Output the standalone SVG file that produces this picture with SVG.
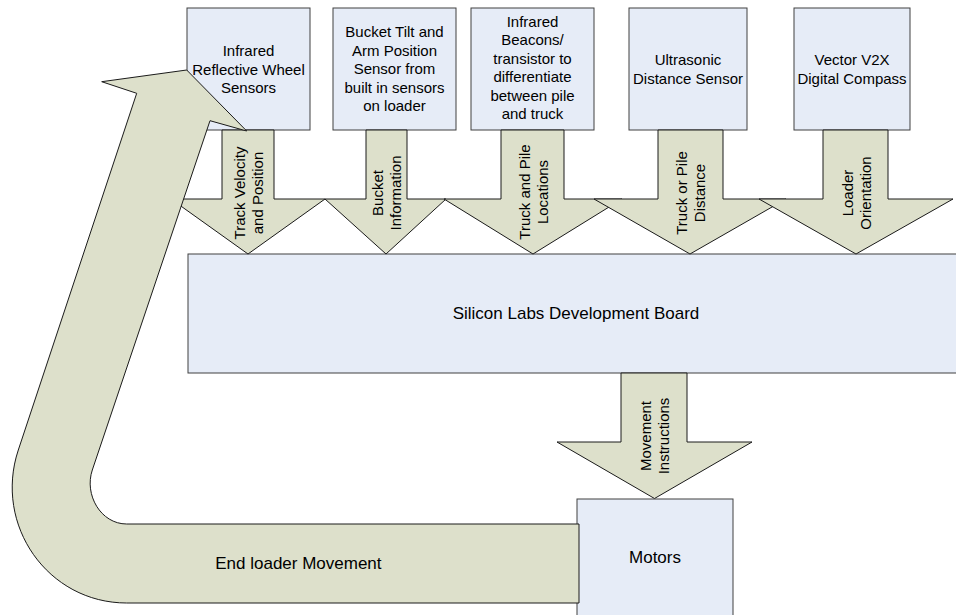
<svg xmlns="http://www.w3.org/2000/svg" width="956" height="615" viewBox="0 0 956 615">
<style>
.box{fill:#E6ECF7;stroke:#404040;stroke-width:1}
.arr{fill:#DDE0CB;stroke:#1a1a1a;stroke-width:1;stroke-linejoin:miter}
text{font-family:"Liberation Sans",Arial,sans-serif;fill:#000}
.s{font-size:15px;text-anchor:middle}
.l{font-size:17px;text-anchor:middle}
</style>
<rect width="956" height="615" fill="#fff"/>
<g id="nodes">
<g id="sensor1">
<rect class="box" x="187" y="8" width="123" height="122"/>
<text class="s"><tspan x="248.5" y="56">Infrared</tspan><tspan x="248.5" y="74.5">Reflective Wheel</tspan><tspan x="248.5" y="93">Sensors</tspan></text>
</g>
<g id="sensor2">
<rect class="box" x="333" y="8" width="123" height="122"/>
<text class="s"><tspan x="394.5" y="37">Bucket Tilt and</tspan><tspan x="394.5" y="55.5">Arm Position</tspan><tspan x="394.5" y="74">Sensor from</tspan><tspan x="394.5" y="92.5">built in sensors</tspan><tspan x="394.5" y="111">on loader</tspan></text>
</g>
<g id="sensor3">
<rect class="box" x="471" y="8" width="123" height="122"/>
<text class="s"><tspan x="532.5" y="26.5">Infrared</tspan><tspan x="532.5" y="45">Beacons/</tspan><tspan x="532.5" y="63.5">transistor to</tspan><tspan x="532.5" y="82">differentiate</tspan><tspan x="532.5" y="100.5">between pile</tspan><tspan x="532.5" y="119">and truck</tspan></text>
</g>
<g id="sensor4">
<rect class="box" x="629" y="8" width="118" height="122"/>
<text class="s"><tspan x="688" y="65">Ultrasonic</tspan><tspan x="688" y="83.5">Distance Sensor</tspan></text>
</g>
<g id="sensor5">
<rect class="box" x="794" y="8" width="116" height="122"/>
<text class="s"><tspan x="852" y="65">Vector V2X</tspan><tspan x="852" y="83.5">Digital Compass</tspan></text>
</g>
<g id="board">
<rect class="box" x="188" y="254" width="776" height="119"/>
<text class="l" x="576" y="319">Silicon Labs Development Board</text>
</g>
<g id="motors">
<rect class="box" x="577" y="499" width="156" height="118"/>
<text class="l" x="655" y="563">Motors</text>
</g>
</g>
<g id="connectors">
<g id="a1">
<polygon class="arr" points="222,130 274,130 274,199 325,199 248,254 171,199 222,199"/>
<text class="s" transform="translate(248,193) rotate(-90)"><tspan x="0" y="-3.5">Track Velocity</tspan><tspan x="0" y="14.5">and Position</tspan></text>
</g>
<g id="a2">
<polygon class="arr" points="366,130 407,130 407,199 446,199 386,254 325,199 366,199"/>
<text class="s" transform="translate(386,193) rotate(-90)"><tspan x="0" y="-3.5">Bucket</tspan><tspan x="0" y="14.5">Information</tspan></text>
</g>
<g id="a3">
<polygon class="arr" points="501,130 564,130 564,199 622,199 533,254 444,199 501,199"/>
<text class="s" transform="translate(533,192) rotate(-90)"><tspan x="0" y="-3.5">Truck and Pile</tspan><tspan x="0" y="14.5">Locations</tspan></text>
</g>
<g id="a4">
<polygon class="arr" points="658,130 723,130 723,199 786,199 690,254 594,199 658,199"/>
<text class="s" transform="translate(690,193) rotate(-90)"><tspan x="0" y="-3.5">Truck or Pile</tspan><tspan x="0" y="14.5">Distance</tspan></text>
</g>
<g id="a5">
<polygon class="arr" points="823,130 888,130 888,199 953,199 856,254 759,199 823,199"/>
<text class="s" transform="translate(856,193) rotate(-90)"><tspan x="0" y="-3.5">Loader</tspan><tspan x="0" y="14.5">Orientation</tspan></text>
</g>
<g id="a6">
<polygon class="arr" points="621,373 687,373 687,442 752,442 654.5,498.5 557,442 621,442"/>
<text class="s" transform="translate(654,436) rotate(-90)"><tspan x="0" y="-3.5">Movement</tspan><tspan x="0" y="14.5">Instructions</tspan></text>
</g>
<g id="loop">
<path class="arr" d="M186.7,70 L246.7,131 L210,120.7 L92.3,470 C84,494.6 100.7,524 126.7,524 L579,524 L579,603 L126.7,603 C47.7,603 -6.6,525 18.3,450 L136.7,93.3 L101.7,81.7 Z"/>
<text class="l" x="298.4" y="569">End loader Movement</text>
</g>
</g>
</svg>
